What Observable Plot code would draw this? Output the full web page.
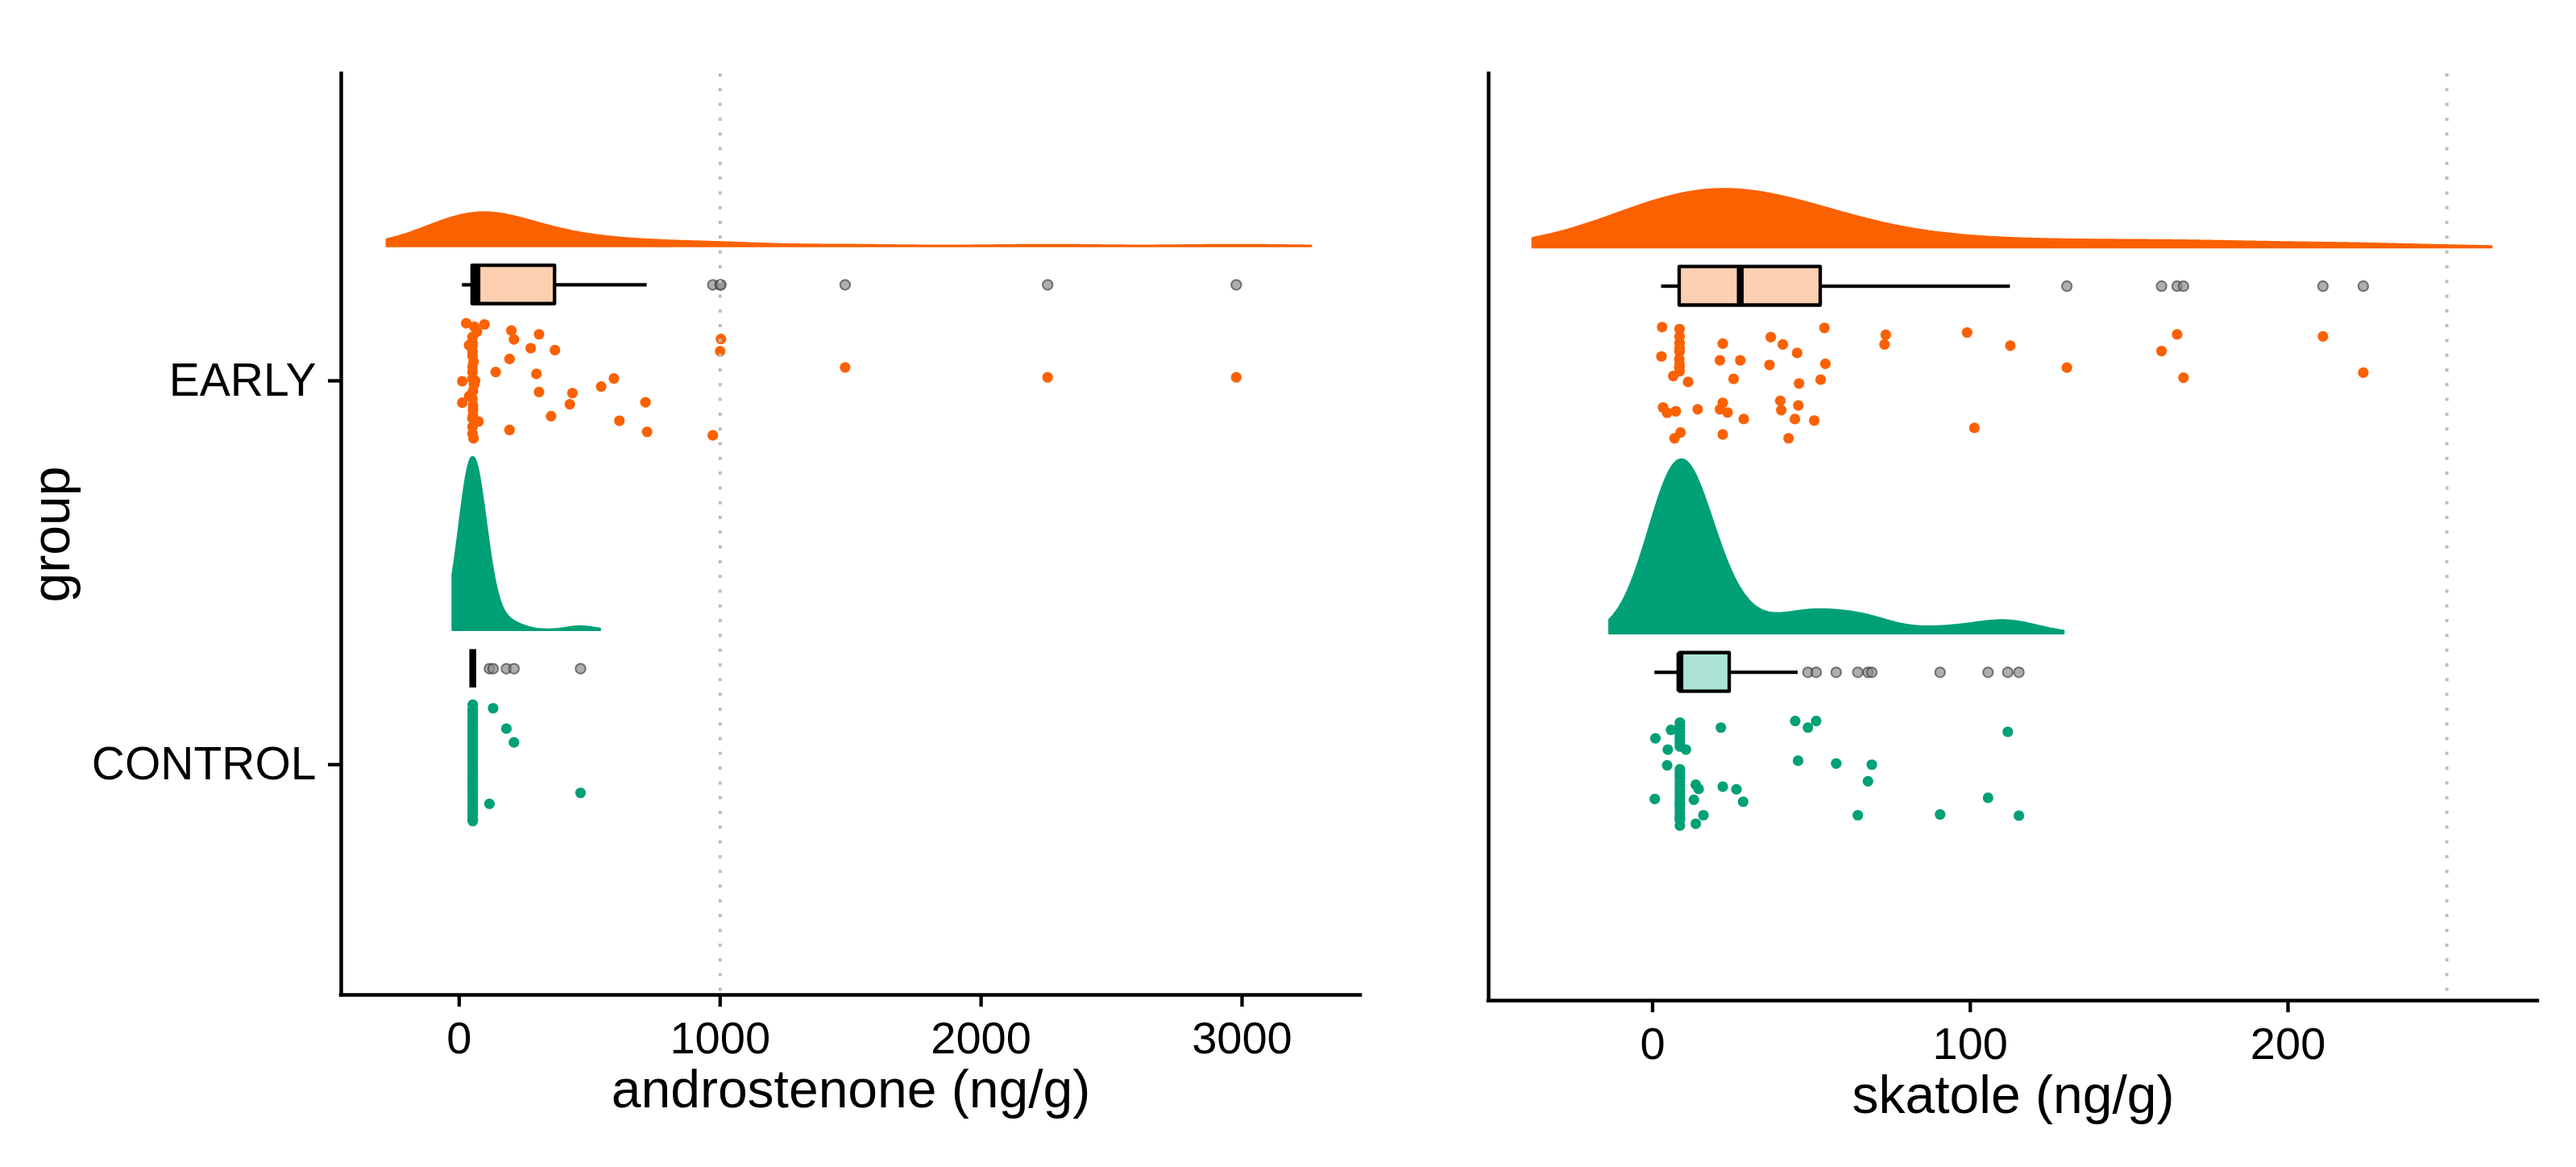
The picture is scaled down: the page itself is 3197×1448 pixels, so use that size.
<!DOCTYPE html>
<html>
<head>
<meta charset="utf-8">
<script src="https://cdn.jsdelivr.net/npm/d3@7"></script>
<script src="https://cdn.jsdelivr.net/npm/@observablehq/plot@0.6"></script>
<style>
html, body { margin: 0; padding: 0; background: #fff; }
#chart { display: flex; width: 3197px; height: 1448px; overflow: hidden; }
#chart > div { flex: none; }
#chart svg { max-width: none; }
</style>
</head>
<body>
<div id="chart"><div id="left"></div><div id="right"></div></div>
<script>
// ---------------- data ----------------
const groups = ["CONTROL", "EARLY"];
const groupColors = {CONTROL: "#00A076", EARLY: "#FA6100"};
const boxFills = {CONTROL: "#ACE3D6", EARLY: "#FED0B2"};

const androTicks = [0, 1000, 2000, 3000];
const skatoleTicks = [0, 100, 200];
const androThreshold = 1000;
const skatoleThreshold = 250;
const androDomain = [-452, 3454];
const skatoleDomain = [-51.6, 278.6];
const yDomain = [0.4, 2.8];
const androTitle = "androstenone (ng/g)";
const skatoleTitle = "skatole (ng/g)";
const yTitle = "group";
const densityAdjust = 2;

const androEarly = [27, 58, 97, 200, 210, 306, 51, 51, 51, 51, 38, 274, 367, 193, 51, 51, 140, 296, 12, 61, 593, 544, 53, 38, 306, 434, 12, 53, 424, 714, 352, 53, 74, 51, 614, 193, 51, 720, 1003, 1000, 972, 1479, 2255, 2978, 51, 55, 51, 57, 51, 53, 68, 51, 55];
const androEarlyJitter = [.150, .141, .147, .131, .108, .121, .114, .100, .090, .076, .093, .085, .080, .057, .037, .023, .023, .018, -.001, .000, .006, -.015, -.026, -.040, -.029, -.032, -.057, -.064, -.061, -.056, -.092, -.089, -.106, -.120, -.104, -.128, -.138, -.133, .109, .077, -.142, .035, .009, .009, .065, .050, .005, -.010, -.047, -.075, .128, -.098, -.150];

const androControl = [52, 52, 52, 52, 52, 52, 52, 52, 52, 52, 52, 52, 52, 52, 52, 52, 52, 52, 52, 52, 52, 52, 52, 52, 52, 52, 52, 52, 52, 52, 52, 52, 52, 52, 52, 52, 52, 52, 52, 52, 52, 52, 52, 52, 52, 52, 52, 52, 52, 52, 130, 181, 210, 465, 116];
const androControlJitter = [.156, .144, .139, .131, .126, .119, .113, .108, .101, .095, .089, .082, .077, .070, .064, .057, .051, .046, .039, .033, .027, .020, .014, .008, .002, -.004, -.011, -.016, -.023, -.029, -.035, -.041, -.048, -.053, -.060, -.066, -.072, -.079, -.084, -.091, -.097, -.103, -.109, -.116, -.121, -.128, -.133, -.139, -.144, -.147, .147, .094, .058, -.0735, -.102];

const skatoleEarly = [3.0, 8.5, 8.5, 8.5, 8.5, 2.8, 8.4, 8.5, 8.5, 6.5, 11.2, 22.1, 21.2, 27.6, 25.5, 37.2, 41.0, 45.5, 36.8, 46.1, 52.9, 54.4, 54.1, 73.4, 73.0, 99.0, 112.6, 101.3, 3.3, 4.6, 7.3, 14.2, 22.1, 21.2, 23.6, 28.7, 40.2, 40.5, 45.9, 44.8, 50.9, 8.8, 6.9, 22.1, 42.8, 165.1, 211.0, 160.2, 130.4, 223.7, 167.1, 8.5, 8.4];
const skatoleEarlyJitter = [.144, .139, .120, .103, .089, .068, .061, .047, .030, .017, .002, .101, .058, .058, .010, .118, .099, .077, .046, -.002, .008, .049, .142, .124, .099, .130, .096, -.117, -.064, -.078, -.074, -.069, -.052, -.069, -.077, -.094, -.047, -.071, -.059, -.094, -.098, -.129, -.144, -.134, -.144, .125, .120, .082, .039, .026, .013, .080, .040];

const skatoleControl = [0.7, 0.9, 4.6, 4.8, 5.8, 8.6, 8.6, 8.6, 8.6, 8.6, 8.6, 8.6, 8.6, 8.6, 8.6, 8.6, 8.6, 8.6, 8.6, 8.6, 8.6, 8.6, 8.6, 8.6, 8.6, 8.6, 8.6, 8.6, 8.6, 8.6, 8.6, 8.6, 8.6, 10.5, 13.0, 13.6, 14.5, 16.0, 13.6, 21.5, 22.1, 26.4, 28.5, 44.9, 45.8, 48.9, 51.5, 57.8, 64.6, 67.8, 69.0, 90.5, 105.6, 111.8, 115.3];
const skatoleControlJitter = [-.078, .079, .009, .050, .101, .112, .080, .066, -.001, -.024, -.041, -.059, -.076, -.097, -.114, -.132, -.147, .120, .105, .095, .088, .073, .058, -.010, -.017, -.033, -.050, -.068, -.085, -.090, -.105, -.123, -.128, .050, -.080, -.041, -.052, -.120, -.142, .107, -.046, -.053, -.085, .124, .021, .107, .124, .014, -.120, -.032, .011, -.118, -.075, .096, -.121];

// ---------------- statistics ----------------
function bwNrd0(x) {
  const hi = d3.deviation(x);
  const iqr = d3.quantile(x, 0.75) - d3.quantile(x, 0.25);
  let lo = Math.min(hi, iqr / 1.34);
  if (!lo) lo = hi || Math.abs(x[0]) || 1;
  return 0.9 * lo * Math.pow(x.length, -0.2);
}
// like ggplot2 stat_ydensity(trim = FALSE, adjust): range +- 3*bw, kernel width adjust*bw
function kde(x, n = 512) {
  const bw = bwNrd0(x);
  const kb = bw * densityAdjust;
  const from = d3.min(x) - 3 * bw, to = d3.max(x) + 3 * bw;
  const c = 1 / (x.length * kb * Math.sqrt(2 * Math.PI));
  const pts = [];
  for (let i = 0; i < n; i++) {
    const t = from + (to - from) * i / (n - 1);
    let s = 0;
    for (const v of x) { const z = (t - v) / kb; s += Math.exp(-0.5 * z * z); }
    pts.push({x: t, density: s * c});
  }
  return pts;
}
function boxStats(x) {
  const s = x.slice().sort(d3.ascending);
  const q1 = d3.quantile(s, 0.25), median = d3.quantile(s, 0.5), q3 = d3.quantile(s, 0.75);
  const iqr = q3 - q1, lf = q1 - 1.5 * iqr, uf = q3 + 1.5 * iqr;
  const inside = s.filter(v => v >= lf && v <= uf);
  return {q1, median, q3, lo: d3.min(inside), hi: d3.max(inside), outliers: s.filter(v => v < lf || v > uf)};
}

// ---------------- panel ----------------
function makePanel({series, jitters, xDomain, ticks, threshold, xTitle, showY, width, marginLeft, marginRight, marginBottom}) {
  const marks = [];
  const dens = groups.map(g => kde(series[g]));
  const maxD = d3.max(dens, d => d3.max(d, p => p.density));
  groups.forEach((g, i) => {
    const pos = i + 1;
    const pts = dens[i].map(p => ({x: p.x, y1: pos + 0.35, y2: pos + 0.35 + 0.45 * p.density / maxD}));
    marks.push(Plot.areaY(pts, {x: "x", y1: "y1", y2: "y2", fill: groupColors[g], stroke: groupColors[g], strokeWidth: 3, strokeLinejoin: "round"}));
  });
  groups.forEach((g, i) => {
    const pos = i + 1;
    const pts = series[g].map((v, k) => ({v, y: pos + jitters[g][k]}));
    marks.push(Plot.dot(pts, {x: "v", y: "y", r: 6.6, fill: groupColors[g]}));
  });
  groups.forEach((g, i) => {
    const pos = i + 1;
    const st = boxStats(series[g]);
    const row = [{...st, yc: pos + 0.25, yb: pos + 0.2, yt: pos + 0.3}];
    marks.push(Plot.ruleY(row, {y: "yc", x1: "lo", x2: "q1", stroke: "black", strokeWidth: 4.3}));
    marks.push(Plot.ruleY(row, {y: "yc", x1: "q3", x2: "hi", stroke: "black", strokeWidth: 4.3}));
    if (st.q3 > st.q1) {
      marks.push(Plot.rect(row, {x1: "q1", x2: "q3", y1: "yb", y2: "yt", fill: boxFills[g], stroke: "black", strokeWidth: 4.3, strokeLinejoin: "round"}));
    }
    marks.push(Plot.ruleX(row, {x: "median", y1: "yb", y2: "yt", stroke: "black", strokeWidth: 8.5}));
    marks.push(Plot.dot(st.outliers.map(v => ({v, y: pos + 0.25})), {x: "v", y: "y", r: 6.2, fill: "#8c8c8c", fillOpacity: 0.7, stroke: "#3a3a3a", strokeOpacity: 0.65, strokeWidth: 2}));
  });
  marks.push(Plot.ruleX([threshold], {stroke: "#bdbdbd", strokeWidth: 4, strokeDasharray: "4 14.3"}));
  marks.push(Plot.ruleX([xDomain[0]], {stroke: "black", strokeWidth: 4.5, strokeLinecap: "square"}));
  marks.push(Plot.ruleY([yDomain[0]], {stroke: "black", strokeWidth: 4.5, strokeLinecap: "square"}));
  marks.push(Plot.axisX(ticks, {tickSize: 15, tickPadding: 18, fontSize: 56, strokeWidth: 4.3, tickFormat: d => String(d), label: null}));
  marks.push(Plot.text([xTitle], {text: d => d, frameAnchor: "bottom", textAnchor: "middle", dy: 139, fontSize: 66}));
  if (showY) {
    marks.push(Plot.axisY([1, 2], {tickFormat: d => groups[d - 1], tickSize: 16, tickPadding: 15, fontSize: 57, strokeWidth: 4.3, label: null}));
    marks.push(Plot.text([yTitle], {text: d => d, frameAnchor: "left", textAnchor: "middle", dx: -359, rotate: -90, fontSize: 66}));
  }
  return Plot.plot({
    width, height: 1448,
    marginLeft, marginRight, marginTop: 91, marginBottom,
    style: {fontFamily: "'Liberation Sans', Arial, sans-serif", background: "white", color: "black"},
    x: {domain: xDomain},
    y: {domain: yDomain, axis: showY ? undefined : null},
    marks
  });
}

document.getElementById("left").append(makePanel({
  series: {CONTROL: androControl, EARLY: androEarly},
  jitters: {CONTROL: androControlJitter, EARLY: androEarlyJitter},
  xDomain: androDomain, ticks: androTicks, threshold: androThreshold, xTitle: androTitle,
  showY: true, width: 1760, marginLeft: 423, marginRight: 72, marginBottom: 214
}));
document.getElementById("right").append(makePanel({
  series: {CONTROL: skatoleControl, EARLY: skatoleEarly},
  jitters: {CONTROL: skatoleControlJitter, EARLY: skatoleEarlyJitter},
  xDomain: skatoleDomain, ticks: skatoleTicks, threshold: skatoleThreshold, xTitle: skatoleTitle,
  showY: false, width: 1437, marginLeft: 87, marginRight: 48, marginBottom: 207
}));
</script>
</body>
</html>
